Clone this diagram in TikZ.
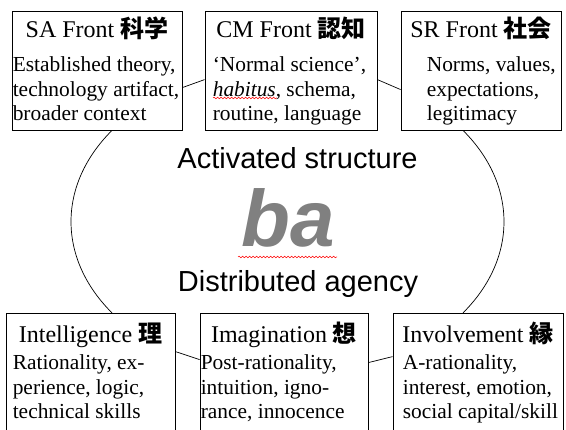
\documentclass[tikz,border=0pt]{standalone}
\usepackage{fontspec}
\setmainfont{Liberation Serif}
\newfontfamily\arial{Liberation Sans}
\newfontfamily\cjk{Noto Sans CJK JP}
\usetikzlibrary{decorations.pathmorphing}
\newcommand\jp[1]{{\cjk\bfseries #1}}
\tikzset{
	box/.style={draw, fill=white, inner sep=0pt, line width=0.8pt},
	head/.style={font=\fontsize{24}{26}\selectfont, inner sep=0pt, anchor=base},
	body/.style={font=\fontsize{21.4}{24.5}\selectfont, align=left, inner sep=0pt, anchor=north west},
	mid/.style={font=\arial\fontsize{29}{30}\selectfont, inner sep=0pt, anchor=base},
	link/.style={line width=0.7pt},
	squiggle/.style={red, line width=0.5pt, decorate, decoration={snake, amplitude=0.8pt, segment length=3.5pt}}
}
\begin{document}
\begin{tikzpicture}[x=1pt, y=1pt]
	\clip (0,0) rectangle (566,430);

	% top row
	\node[box, minimum width=170pt, minimum height=119pt] (sa) at (97,359.5) {};
	\node[box, minimum width=172pt, minimum height=119pt] (cm) at (291,359.5) {};
	\node[box, minimum width=160pt, minimum height=119pt] (sr) at (481,359.5) {};
	\node[head] (saT) at ([yshift=-27pt]sa.north) {SA Front \jp{科学}};
	\node[head] (cmT) at ([yshift=-27pt]cm.north) {CM Front \jp{認知}};
	\node[head] (srT) at ([yshift=-27pt]sr.north) {SR Front \jp{社会}};
	\node[body] (saB) at ([xshift=1pt, yshift=-46pt]sa.north west) {Established theory,\\technology artifact,\\broader context};
	\node[body] (cmB) at ([xshift=8pt, yshift=-46pt]cm.north west) {‘Normal science’,\\\emph{habitus}, schema,\\routine, language};
	\node[body] (srB) at ([xshift=26pt, yshift=-46pt]sr.north west) {Norms, values,\\expectations,\\legitimacy};

	% bottom row
	\node[box, minimum width=169pt, minimum height=140pt] (intel) at (90.5,47) {};
	\node[box, minimum width=168pt, minimum height=140pt] (imag) at (284,47) {};
	\node[box, minimum width=170pt, minimum height=140pt] (invol) at (478,47) {};
	\node[head] (intelT) at ([yshift=-30pt]intel.north) {Intelligence \jp{理}};
	\node[head] (imagT) at ([yshift=-30pt]imag.north) {Imagination \jp{想}};
	\node[head] (involT) at ([yshift=-30pt]invol.north) {Involvement \jp{縁}};
	\node[body] (intelB) at ([xshift=7pt, yshift=-42pt]intel.north west) {Rationality, ex-\\perience, logic,\\technical skills};
	\node[body] (imagB) at ([xshift=1pt, yshift=-42pt]imag.north west) {Post-rationality,\\intuition, igno-\\rance, innocence};
	\node[body] (involB) at ([xshift=10pt, yshift=-42pt]invol.north west) {A-rationality,\\interest, emotion,\\social capital/skill};

	% middle
	\node[mid] (act) at (297.5,261) {Activated structure};
	\node[inner sep=0pt, anchor=base, text=gray, font=\arial\fontsize{80}{80}\selectfont\bfseries\itshape] (ba) at (288.5,183) {ba};
	\node[mid] (dist) at (298,138) {Distributed agency};

	\draw[link] ([yshift=-77pt]sa.north east) -- ([yshift=-69pt]cm.north west);
	\draw[link] ([yshift=-69pt]cm.north east) -- ([yshift=-79pt]sr.north west);
	\draw[link] ([yshift=-39pt]intel.north east) -- ([yshift=-47pt]imag.north west);
	\draw[link] ([yshift=-50pt]imag.north east) -- ([yshift=-44pt]invol.north west);

	\draw[link] ([xshift=15pt]sa.south) arc[start angle=144.2, end angle=215.8, x radius=217pt, y radius=156pt];
	\draw[link] ([xshift=-18pt]sr.south) arc[start angle=35.8, end angle=-35.8, x radius=217pt, y radius=156pt];

	\draw[squiggle] (238,173) -- (337,173);
	\draw[squiggle] (213,332) -- (277,332);
\end{tikzpicture}
\end{document}
